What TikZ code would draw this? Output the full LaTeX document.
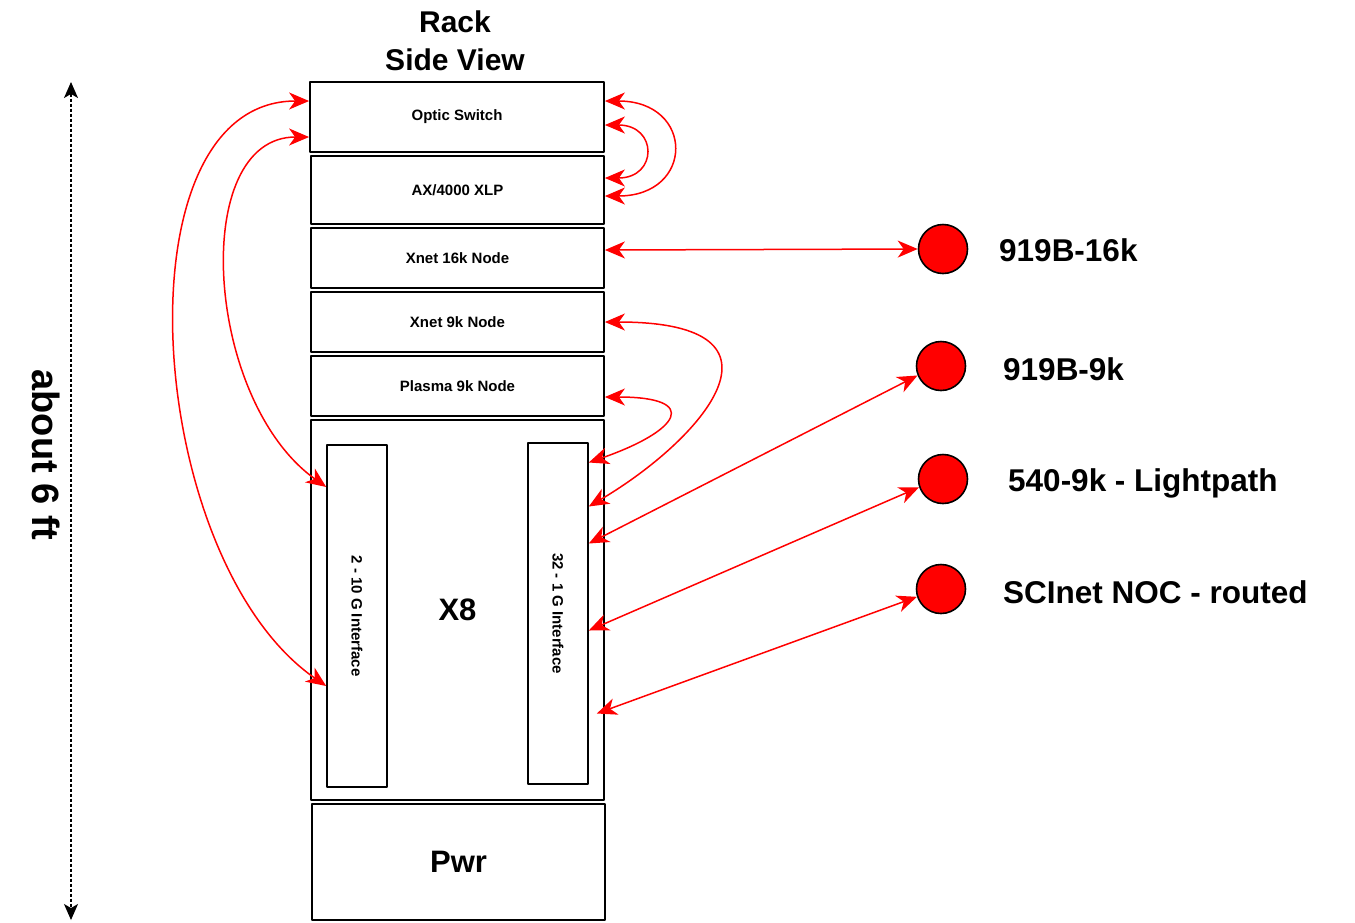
\documentclass[tikz,border=0pt]{standalone}
\usepackage{fontspec}
\setmainfont{Liberation Sans}
\usetikzlibrary{arrows.meta,positioning}
\tikzset{
  every picture/.style={font=\bfseries, line join=round},
  rackbox/.style={draw, line width=1.8pt, inner sep=0pt, minimum width=293pt, font=\fontsize{15}{18}\selectfont\bfseries},
  ifacebox/.style={draw, line width=1.6pt, inner sep=0pt, minimum width=60pt},
  ifacetext/.style={rotate=-90, inner sep=0pt, font=\fontsize{15}{18}\selectfont\bfseries},
  site/.style={circle, draw, fill=red, line width=1.6pt, minimum size=49pt, inner sep=0pt},
  sitelabel/.style={anchor=base west, inner sep=0pt, font=\fontsize{31.5}{36}\selectfont\bfseries},
  bigtext/.style={font=\fontsize{31}{36}\selectfont\bfseries},
  link/.style={red, line width=1.5pt, arrows={Stealth[length=20pt,width=17pt,inset=6pt]-Stealth[length=20pt,width=17pt,inset=6pt]}},
  ruler/.style={line width=1.3pt, dash pattern=on 3pt off 2pt, arrows={Stealth[length=16pt,width=14pt,inset=4pt]-Stealth[length=16pt,width=14pt,inset=4pt]}},
}

\begin{document}
\begin{tikzpicture}[x=1pt,y=-1pt]
\useasboundingbox (0,0) rectangle (1355,922);
% rack
\node[align=center, font=\fontsize{30}{38}\selectfont\bfseries] (title) at (455,41) {Rack\\Side View};
\node[rackbox, minimum width=294pt, minimum height=70pt] (optic) at (457,117) {Optic Switch};
\node[rackbox, minimum height=68pt] (axlp) at (457.5,190) {AX/4000 XLP};
\node[rackbox, minimum height=60pt] (xnetsixteen) at (457.5,258) {Xnet 16k Node};
\node[rackbox, minimum height=60pt] (xnetnine) at (457.5,322) {Xnet 9k Node};
\node[rackbox, minimum height=60pt] (plasma) at (457.5,386) {Plasma 9k Node};
\node[rackbox, bigtext, minimum height=380pt] (xeight) at (457.5,610) {X8};
\node[rackbox, bigtext, minimum height=116pt] (pwr) at (458.5,862) {Pwr};
\node[ifacebox, minimum height=342pt] (tengig) at (357,616) {};
\node[ifacebox, minimum height=341pt] (onegig) at (558,613.5) {};
\node[ifacetext] at (tengig.center) {2 - 10 G Interface};
\node[ifacetext] at (onegig.center) {32 - 1 G Interface};
% sites
\node[site] (sitea) at (943,249) {};
\node[site] (siteb) at (941,366) {};
\node[site] (sitec) at (943,479) {};
\node[site] (sited) at (941,589) {};
\node[sitelabel] at (999,261) {919B-16k};
\node[sitelabel] at (1003,380) {919B-9k};
\node[sitelabel] at (1008,491) {540-9k - Lightpath};
\node[sitelabel] at (1003,603) {SCInet NOC - routed};
% height
\coordinate (ruletop) at (71,82);
\coordinate (rulebottom) at (71,920);
\draw[ruler] (ruletop) -- (rulebottom);
\node[rotate=-90, font=\fontsize{38}{40}\selectfont\bfseries] at (46,455) {about 6 ft};
% links
\draw[link] ([yshift=16pt]optic.east) .. controls +(90,0) and +(90,0) .. ([yshift=-6pt]axlp.east);
\draw[link] ([yshift=-8pt]optic.east) .. controls +(53,0) and +(53,0) .. ([yshift=12pt]axlp.east);
\draw[link] ([yshift=16pt]optic.west) .. controls +(-195,0) and +(-182,-126) .. ([yshift=-70pt]tengig.west);
\draw[link] ([yshift=-20pt]optic.west) .. controls +(-120,0) and +(-122,-87) .. ([yshift=129pt]tengig.west);
\draw[link] ([yshift=8pt]xnetsixteen.east) -- (sitea.west);
\draw[link] (xnetnine.east) .. controls +(201,0) and +(112,-66) .. ([yshift=107pt]onegig.east);
\draw[link] ([yshift=-11pt]plasma.east) .. controls +(96,0) and +(92,-32) .. ([yshift=151pt]onegig.east);
\draw[link] (siteb.202) -- ([yshift=70pt]onegig.east);
\draw[link] (sitec.199) -- ([yshift=-17pt]onegig.east);
\draw[link] (sited.198) -- ([shift={(8pt,-100pt)}]onegig.east);
\end{tikzpicture}
\end{document}
